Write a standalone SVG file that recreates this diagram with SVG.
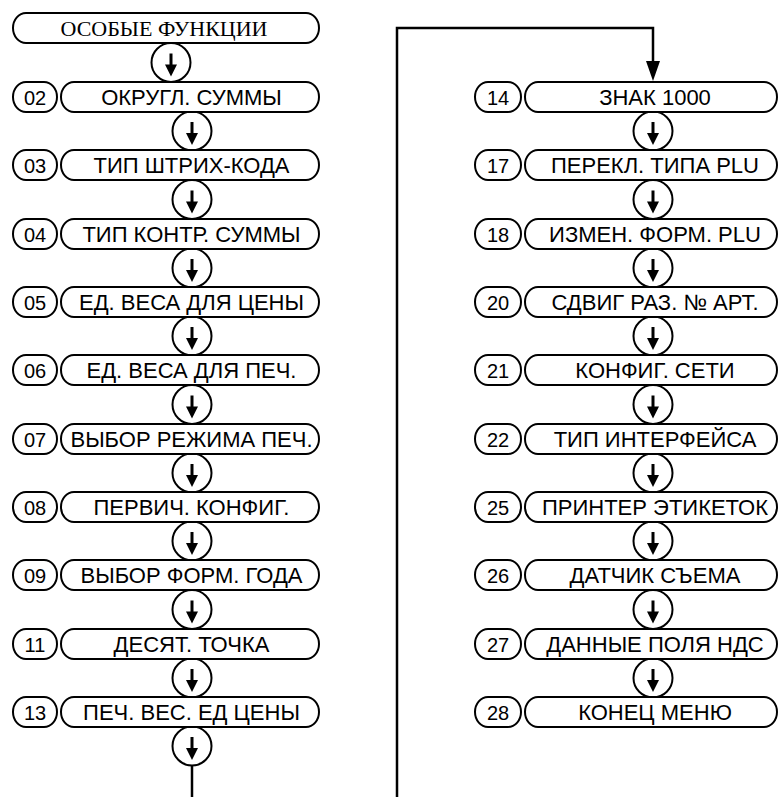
<svg xmlns="http://www.w3.org/2000/svg" xmlns:xlink="http://www.w3.org/1999/xlink" width="778" height="797" viewBox="0 0 778 797">
<defs>
<style>
.pill{fill:#fff;stroke:#000;stroke-width:2}
.t{font-family:"Liberation Sans",Arial,sans-serif;font-size:22px;fill:#000;text-anchor:middle;dominant-baseline:central}
.n{font-family:"Liberation Sans",Arial,sans-serif;font-size:20px;fill:#000;text-anchor:middle;dominant-baseline:central}
.title{font-family:"Liberation Serif","Times New Roman",serif;font-size:22px;fill:#000;text-anchor:middle;dominant-baseline:central}
.conn{fill:none;stroke:#000;stroke-width:2.5}
</style>
<g id="step">
<circle cx="0" cy="0" r="19.5" fill="#fff" stroke="#000" stroke-width="2"/>
<line x1="0" y1="-9" x2="0" y2="3" stroke="#000" stroke-width="3"/>
<polygon points="-6,2 6,2 0,14" fill="#000"/>
</g>
</defs>
<rect width="778" height="797" fill="#fff"/>
<g id="connectors">
<path class="conn" d="M192,764 V797"/>
<path class="conn" d="M397,797 V28 H653 V64"/>
<polygon points="646,61 660,61 653,81" fill="#000"/>
</g>
<g id="node-title">
<rect class="pill" x="13" y="13" width="306" height="30" rx="13" ry="15"/>
<text class="title" x="164" y="28.5">ОСОБЫЕ ФУНКЦИИ</text>
</g>
<g id="steps-left">
<use xlink:href="#step" x="171" y="62.5"/>
<use xlink:href="#step" x="192" y="131"/>
<use xlink:href="#step" x="192" y="199.5"/>
<use xlink:href="#step" x="192" y="268"/>
<use xlink:href="#step" x="192" y="336"/>
<use xlink:href="#step" x="192" y="404.5"/>
<use xlink:href="#step" x="192" y="473"/>
<use xlink:href="#step" x="192" y="541"/>
<use xlink:href="#step" x="192" y="609.5"/>
<use xlink:href="#step" x="192" y="678"/>
<use xlink:href="#step" x="192" y="746"/>
</g>
<g id="steps-right">
<use xlink:href="#step" x="653" y="131"/>
<use xlink:href="#step" x="653" y="199.5"/>
<use xlink:href="#step" x="653" y="268"/>
<use xlink:href="#step" x="653" y="336"/>
<use xlink:href="#step" x="653" y="404.5"/>
<use xlink:href="#step" x="653" y="473"/>
<use xlink:href="#step" x="653" y="541"/>
<use xlink:href="#step" x="653" y="609.5"/>
<use xlink:href="#step" x="653" y="678"/>
</g>
<g id="node-02"><rect class="pill" x="13" y="82" width="44" height="30" rx="13" ry="15"/><text class="n" x="35" y="97.5">02</text><rect class="pill" x="61" y="82" width="258" height="30" rx="13" ry="15"/><text class="t" x="191.5" y="97.5">ОКРУГЛ. СУММЫ</text></g>
<g id="node-03"><rect class="pill" x="13" y="150" width="44" height="30" rx="13" ry="15"/><text class="n" x="35" y="165.5">03</text><rect class="pill" x="61" y="150" width="258" height="30" rx="13" ry="15"/><text class="t" x="191.5" y="165.5">ТИП ШТРИХ-КОДА</text></g>
<g id="node-04"><rect class="pill" x="13" y="219" width="44" height="30" rx="13" ry="15"/><text class="n" x="35" y="234.5">04</text><rect class="pill" x="61" y="219" width="258" height="30" rx="13" ry="15"/><text class="t" x="191.5" y="234.5">ТИП КОНТР. СУММЫ</text></g>
<g id="node-05"><rect class="pill" x="13" y="287" width="44" height="30" rx="13" ry="15"/><text class="n" x="35" y="302.5">05</text><rect class="pill" x="61" y="287" width="258" height="30" rx="13" ry="15"/><text class="t" x="191.5" y="302.5">ЕД. ВЕСА ДЛЯ ЦЕНЫ</text></g>
<g id="node-06"><rect class="pill" x="13" y="355" width="44" height="30" rx="13" ry="15"/><text class="n" x="35" y="370.5">06</text><rect class="pill" x="61" y="355" width="258" height="30" rx="13" ry="15"/><text class="t" x="191.5" y="370.5">ЕД. ВЕСА ДЛЯ ПЕЧ.</text></g>
<g id="node-07"><rect class="pill" x="13" y="424" width="44" height="30" rx="13" ry="15"/><text class="n" x="35" y="439.5">07</text><rect class="pill" x="61" y="424" width="258" height="30" rx="13" ry="15"/><text class="t" x="191.5" y="439.5">ВЫБОР РЕЖИМА ПЕЧ.</text></g>
<g id="node-08"><rect class="pill" x="13" y="492" width="44" height="30" rx="13" ry="15"/><text class="n" x="35" y="507.5">08</text><rect class="pill" x="61" y="492" width="258" height="30" rx="13" ry="15"/><text class="t" x="191.5" y="507.5">ПЕРВИЧ. КОНФИГ.</text></g>
<g id="node-09"><rect class="pill" x="13" y="560" width="44" height="30" rx="13" ry="15"/><text class="n" x="35" y="575.5">09</text><rect class="pill" x="61" y="560" width="258" height="30" rx="13" ry="15"/><text class="t" x="191.5" y="575.5">ВЫБОР ФОРМ. ГОДА</text></g>
<g id="node-11"><rect class="pill" x="13" y="629" width="44" height="30" rx="13" ry="15"/><text class="n" x="35" y="644.5">11</text><rect class="pill" x="61" y="629" width="258" height="30" rx="13" ry="15"/><text class="t" x="191.5" y="644.5">ДЕСЯТ. ТОЧКА</text></g>
<g id="node-13"><rect class="pill" x="13" y="697" width="44" height="30" rx="13" ry="15"/><text class="n" x="35" y="712.5">13</text><rect class="pill" x="61" y="697" width="258" height="30" rx="13" ry="15"/><text class="t" x="191.5" y="712.5">ПЕЧ. ВЕС. ЕД ЦЕНЫ</text></g>
<g id="node-14"><rect class="pill" x="475" y="82" width="46" height="30" rx="13" ry="15"/><text class="n" x="498" y="97.5">14</text><rect class="pill" x="525" y="82" width="252" height="30" rx="13" ry="15"/><text class="t" x="655" y="97.5">ЗНАК 1000</text></g>
<g id="node-17"><rect class="pill" x="475" y="150" width="46" height="30" rx="13" ry="15"/><text class="n" x="498" y="165.5">17</text><rect class="pill" x="525" y="150" width="252" height="30" rx="13" ry="15"/><text class="t" x="655" y="165.5">ПЕРЕКЛ. ТИПА PLU</text></g>
<g id="node-18"><rect class="pill" x="475" y="219" width="46" height="30" rx="13" ry="15"/><text class="n" x="498" y="234.5">18</text><rect class="pill" x="525" y="219" width="252" height="30" rx="13" ry="15"/><text class="t" x="655" y="234.5">ИЗМЕН. ФОРМ. PLU</text></g>
<g id="node-20"><rect class="pill" x="475" y="287" width="46" height="30" rx="13" ry="15"/><text class="n" x="498" y="302.5">20</text><rect class="pill" x="525" y="287" width="252" height="30" rx="13" ry="15"/><text class="t" x="655" y="302.5">СДВИГ РАЗ. № АРТ.</text></g>
<g id="node-21"><rect class="pill" x="475" y="355" width="46" height="30" rx="13" ry="15"/><text class="n" x="498" y="370.5">21</text><rect class="pill" x="525" y="355" width="252" height="30" rx="13" ry="15"/><text class="t" x="655" y="370.5">КОНФИГ. СЕТИ</text></g>
<g id="node-22"><rect class="pill" x="475" y="424" width="46" height="30" rx="13" ry="15"/><text class="n" x="498" y="439.5">22</text><rect class="pill" x="525" y="424" width="252" height="30" rx="13" ry="15"/><text class="t" x="655" y="439.5">ТИП ИНТЕРФЕЙСА</text></g>
<g id="node-25"><rect class="pill" x="475" y="492" width="46" height="30" rx="13" ry="15"/><text class="n" x="498" y="507.5">25</text><rect class="pill" x="525" y="492" width="252" height="30" rx="13" ry="15"/><text class="t" x="655" y="507.5">ПРИНТЕР ЭТИКЕТОК</text></g>
<g id="node-26"><rect class="pill" x="475" y="560" width="46" height="30" rx="13" ry="15"/><text class="n" x="498" y="575.5">26</text><rect class="pill" x="525" y="560" width="252" height="30" rx="13" ry="15"/><text class="t" x="655" y="575.5">ДАТЧИК СЪЕМА</text></g>
<g id="node-27"><rect class="pill" x="475" y="629" width="46" height="30" rx="13" ry="15"/><text class="n" x="498" y="644.5">27</text><rect class="pill" x="525" y="629" width="252" height="30" rx="13" ry="15"/><text class="t" x="655" y="644.5">ДАННЫЕ ПОЛЯ НДС</text></g>
<g id="node-28"><rect class="pill" x="475" y="697" width="46" height="30" rx="13" ry="15"/><text class="n" x="498" y="712.5">28</text><rect class="pill" x="525" y="697" width="252" height="30" rx="13" ry="15"/><text class="t" x="655" y="712.5">КОНЕЦ МЕНЮ</text></g>
</svg>
